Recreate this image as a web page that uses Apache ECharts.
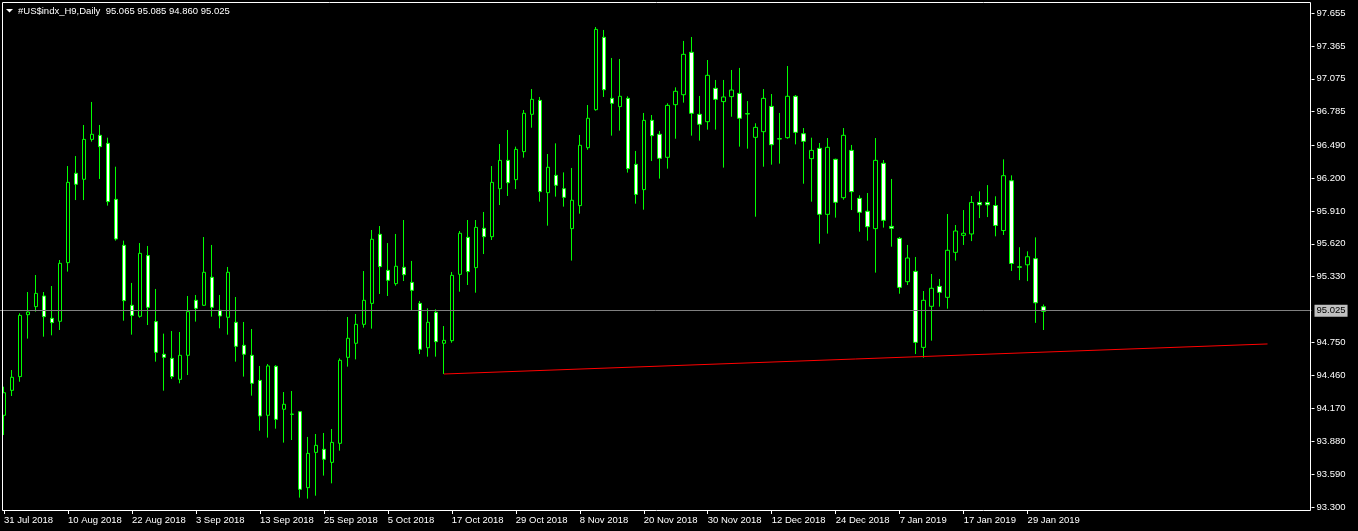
<!DOCTYPE html>
<html><head><meta charset="utf-8">
<script src="https://cdn.jsdelivr.net/npm/echarts@6/dist/echarts.min.js"></script>
<style>html,body{margin:0;padding:0;background:#000;}#c{width:1358px;height:531px;}</style>
</head><body><div id="c"></div>
<script>
const dates = ['31 Jul 2018','1 Aug 2018','2 Aug 2018','3 Aug 2018','6 Aug 2018','7 Aug 2018','8 Aug 2018','9 Aug 2018','10 Aug 2018','13 Aug 2018','14 Aug 2018','15 Aug 2018','16 Aug 2018','17 Aug 2018','20 Aug 2018','21 Aug 2018','22 Aug 2018','23 Aug 2018','24 Aug 2018','27 Aug 2018','28 Aug 2018','29 Aug 2018','30 Aug 2018','31 Aug 2018','3 Sep 2018','4 Sep 2018','5 Sep 2018','6 Sep 2018','7 Sep 2018','10 Sep 2018','11 Sep 2018','12 Sep 2018','13 Sep 2018','14 Sep 2018','17 Sep 2018','18 Sep 2018','19 Sep 2018','20 Sep 2018','21 Sep 2018','24 Sep 2018','25 Sep 2018','26 Sep 2018','27 Sep 2018','28 Sep 2018','1 Oct 2018','2 Oct 2018','3 Oct 2018','4 Oct 2018','5 Oct 2018','8 Oct 2018','9 Oct 2018','10 Oct 2018','11 Oct 2018','12 Oct 2018','15 Oct 2018','16 Oct 2018','17 Oct 2018','18 Oct 2018','19 Oct 2018','22 Oct 2018','23 Oct 2018','24 Oct 2018','25 Oct 2018','26 Oct 2018','29 Oct 2018','30 Oct 2018','31 Oct 2018','1 Nov 2018','2 Nov 2018','5 Nov 2018','6 Nov 2018','7 Nov 2018','8 Nov 2018','9 Nov 2018','12 Nov 2018','13 Nov 2018','14 Nov 2018','15 Nov 2018','16 Nov 2018','19 Nov 2018','20 Nov 2018','21 Nov 2018','22 Nov 2018','23 Nov 2018','26 Nov 2018','27 Nov 2018','28 Nov 2018','29 Nov 2018','30 Nov 2018','3 Dec 2018','4 Dec 2018','5 Dec 2018','6 Dec 2018','7 Dec 2018','10 Dec 2018','11 Dec 2018','12 Dec 2018','13 Dec 2018','14 Dec 2018','17 Dec 2018','18 Dec 2018','19 Dec 2018','20 Dec 2018','21 Dec 2018','24 Dec 2018','26 Dec 2018','27 Dec 2018','28 Dec 2018','31 Dec 2018','2 Jan 2019','3 Jan 2019','4 Jan 2019','7 Jan 2019','8 Jan 2019','9 Jan 2019','10 Jan 2019','11 Jan 2019','14 Jan 2019','15 Jan 2019','16 Jan 2019','17 Jan 2019','18 Jan 2019','21 Jan 2019','22 Jan 2019','23 Jan 2019','24 Jan 2019','25 Jan 2019','28 Jan 2019','29 Jan 2019','30 Jan 2019','31 Jan 2019'];

const opens  = [94.108,94.328,94.449,94.995,95.066,95.160,94.963,94.937,95.454,96.242,96.189,96.541,96.577,96.506,96.012,95.607,95.078,94.981,95.516,94.934,94.646,94.610,94.425,94.637,95.122,95.078,95.325,95.034,94.972,94.928,94.725,94.637,94.416,94.108,94.540,94.161,94.116,94.140,93.470,93.781,93.808,93.693,93.861,94.619,94.743,94.910,95.095,95.704,95.386,95.269,95.413,95.280,95.095,94.704,95.016,94.743,94.766,95.351,95.677,95.410,95.757,95.683,96.106,96.356,96.186,96.433,96.762,96.885,96.071,96.224,96.106,95.754,95.957,96.468,96.803,97.441,96.903,96.830,96.903,96.321,96.098,96.709,96.586,96.383,96.847,96.935,97.309,96.762,96.697,96.991,96.874,96.918,96.947,96.768,96.559,96.609,96.832,96.547,96.556,96.921,96.591,96.371,96.462,95.880,96.365,96.027,96.444,96.021,95.907,95.754,96.330,95.774,95.668,95.286,95.377,94.707,95.069,95.245,95.148,95.545,95.695,95.707,95.985,95.985,95.958,95.737,96.176,95.417,95.435,95.489,95.065];
const highs  = [94.360,94.507,95.007,95.195,95.345,95.195,95.248,95.477,96.306,96.394,96.668,96.871,96.668,96.556,96.300,95.648,95.275,95.627,95.601,95.222,94.828,94.851,94.842,95.160,95.169,95.680,95.610,95.169,95.416,95.151,94.931,94.869,94.543,94.560,94.550,94.313,94.322,94.145,93.917,93.943,93.952,93.987,94.610,94.975,95.001,95.380,95.742,95.777,95.627,95.707,95.830,95.469,95.116,95.051,95.042,94.895,95.372,95.733,95.830,95.830,95.901,96.306,96.500,96.624,96.477,96.800,96.985,96.915,96.412,96.506,96.250,96.289,96.580,96.844,97.532,97.506,97.259,97.250,96.921,96.439,96.774,96.756,96.615,96.859,97.000,97.409,97.444,96.924,97.241,97.065,97.065,97.153,97.171,96.879,96.683,96.985,96.941,96.774,97.188,96.932,96.641,96.556,96.509,96.553,96.371,96.641,96.492,96.048,96.068,96.553,96.359,96.192,95.680,95.610,95.504,95.204,95.354,95.310,95.883,95.786,95.918,96.042,96.083,96.138,96.039,96.365,96.224,95.590,95.554,95.677,95.085];
const lows   = [93.934,94.278,94.404,94.784,95.022,94.801,94.813,94.860,95.375,96.006,96.006,96.521,96.192,95.957,95.648,94.942,94.819,94.969,94.904,94.581,94.325,94.428,94.390,94.463,94.934,95.072,94.978,94.875,94.819,94.581,94.449,94.281,93.972,93.911,93.990,93.867,93.890,93.382,93.373,93.399,93.576,93.508,93.796,94.537,94.601,94.881,94.872,95.178,95.160,95.251,95.292,95.036,94.648,94.625,94.625,94.472,94.748,95.198,95.257,95.189,95.530,95.654,95.962,96.042,96.103,96.380,96.644,95.992,95.780,96.036,95.948,95.472,95.886,96.450,96.794,96.915,96.574,96.618,96.248,95.974,95.921,96.350,96.195,96.283,96.547,96.865,96.574,96.530,96.627,96.627,96.292,96.741,96.477,96.459,95.859,96.300,96.318,96.327,96.547,96.497,96.150,95.992,95.621,95.710,95.851,96.009,95.918,95.727,95.648,95.366,95.763,95.595,95.180,95.257,94.648,94.616,94.766,95.066,95.048,95.472,95.610,95.644,95.847,95.856,95.686,95.698,95.381,95.300,95.291,94.923,94.860];
const closes = [94.307,94.443,94.989,95.019,95.183,94.978,94.925,95.448,96.162,96.145,96.541,96.586,96.477,95.992,95.663,95.119,94.989,95.536,95.060,94.663,94.619,94.449,94.637,95.022,95.051,95.369,95.060,94.984,95.369,94.716,94.646,94.390,94.102,94.543,94.072,94.205,94.119,93.455,93.772,93.843,93.720,93.869,94.593,94.787,94.910,95.122,95.660,95.419,95.298,95.422,95.348,95.210,94.690,94.928,94.757,94.769,95.342,95.713,95.375,95.765,95.683,96.162,96.356,96.159,96.453,96.771,96.894,96.080,96.295,96.136,96.030,96.004,96.489,96.727,97.511,96.979,96.859,96.921,96.283,96.056,96.709,96.574,96.374,96.841,96.965,97.291,96.771,96.674,97.106,96.894,96.915,96.976,96.727,96.765,96.647,96.903,96.494,96.544,96.921,96.603,96.524,96.444,95.880,96.471,95.986,96.577,96.080,95.898,95.771,96.356,95.827,95.757,95.236,95.495,94.751,95.122,95.228,95.192,95.563,95.733,95.713,95.985,95.964,95.964,95.782,96.221,95.447,95.414,95.506,95.100,95.025];

const priceTicks = [97.655,97.365,97.075,96.785,96.490,96.200,95.910,95.620,95.330,94.750,94.460,94.170,93.880,93.590,93.300];
const lastPrice = 95.025;
const trendIdx = [55, 158];
const trendPrice = [94.472, 94.737];
const titleText = '#US$indx_H9,Daily  95.065 95.085 94.860 95.025';

const FONT = '"Liberation Sans", Arial, sans-serif';
const FS = 9.5;
const TOTAL_SLOTS = 164;
const cats = dates.slice();
while (cats.length < TOTAL_SLOTS) cats.push('');
const candleData = opens.map((o, i) => [o, closes[i], lows[i], highs[i]]);
const trendData = trendIdx.map((x, i) => [x, trendPrice[i]]);
const showIdx = (i) => i % 8 === 0 && i < dates.length;

const chart = echarts.init(document.getElementById('c'), null, {renderer: 'canvas'});
chart.setOption({
  animation: false,
  backgroundColor: '#000000',
  grid: {left: -0.5, top: 2, width: TOTAL_SLOTS * 8, bottom: 21, containLabel: false},
  xAxis: {
    type: 'category', data: cats, boundaryGap: true,
    axisLine: {show: false},
    axisTick: {show: true, interval: showIdx, alignWithLabel: true, length: 4, lineStyle: {color: '#ffffff', width: 1}},
    axisLabel: {interval: showIdx, align: 'left', color: '#ffffff', fontSize: FS, fontFamily: FONT, margin: 5},
    splitLine: {show: false}
  },
  yAxis: {
    type: 'value', position: 'right', min: 93.2728, max: 97.7525, scale: true,
    axisLine: {show: false},
    axisTick: {show: true, customValues: priceTicks, length: 3, lineStyle: {color: '#ffffff'}},
    axisLabel: {customValues: priceTicks, formatter: (v) => Number(v).toFixed(3), color: '#ffffff', fontSize: FS, fontFamily: FONT, margin: 5},
    splitLine: {show: false}
  },
  series: [
    {
      type: 'candlestick', data: candleData, barWidth: 4,
      itemStyle: {color: '#000000', color0: '#ffffff', borderColor: '#00ff00', borderColor0: '#00ff00', borderWidth: 1},
      markLine: {
        silent: true, symbol: ['none', 'none'], animation: false,
        data: [{yAxis: lastPrice}],
        lineStyle: {color: '#808080', type: 'solid', width: 1},
        label: {show: true, position: 'end', formatter: lastPrice.toFixed(3), color: '#000000', backgroundColor: '#c0c0c0', fontSize: FS, fontFamily: FONT, padding: [1, 2, 1, 2], distance: 3}
      }
    },
    {
      type: 'line', data: trendData, symbol: 'none', silent: true, z: 5,
      lineStyle: {color: '#ff0000', width: 1}
    }
  ],
  graphic: [
    {type: 'rect', silent: true, z: 100, shape: {x: 2.5, y: 2.5, width: 1308, height: 508}, style: {fill: 'none', stroke: '#ffffff', lineWidth: 1}},
    {type: 'polygon', silent: true, z: 100, shape: {points: [[6, 9], [13, 9], [9.5, 12.5]]}, style: {fill: '#ffffff'}},
    {type: 'text', silent: true, z: 100, left: 18, top: 6, style: {text: titleText, fill: '#ffffff', font: FS + 'px ' + FONT}}
  ]
});
</script>
</body></html>
